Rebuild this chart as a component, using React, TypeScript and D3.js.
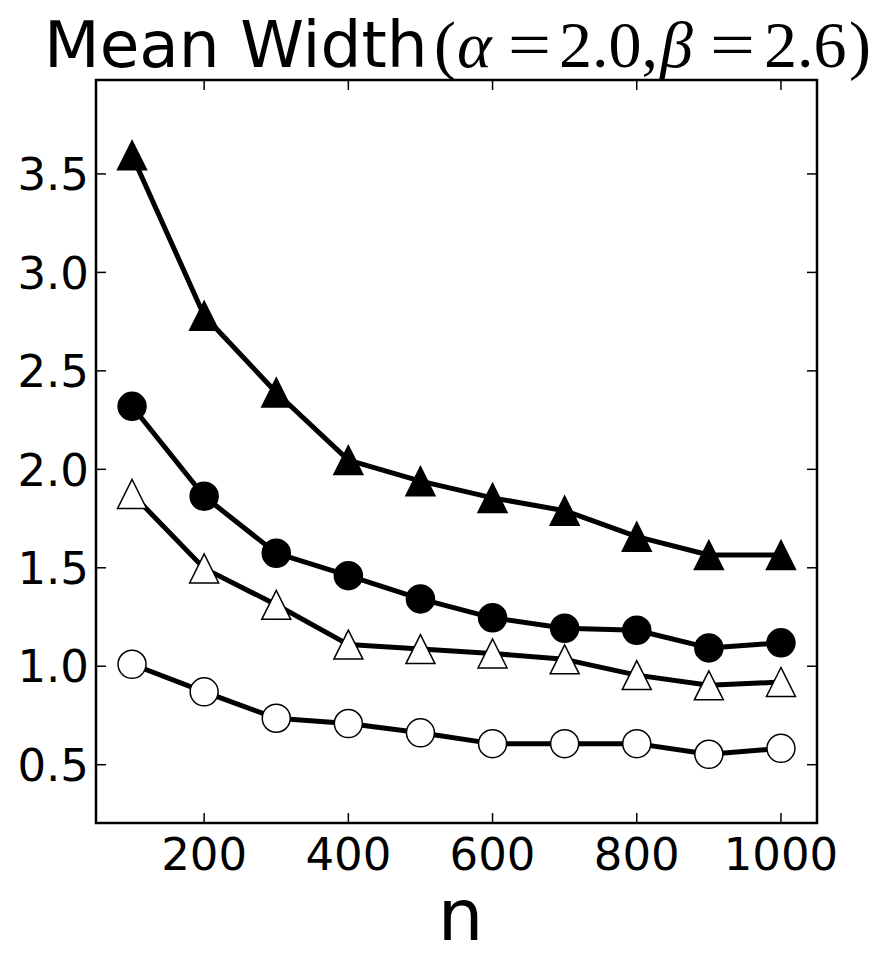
import React from "react";
import * as d3 from "d3";

const nValues = [100, 200, 300, 400, 500, 600, 700, 800, 900, 1000];
const filledTriangle = [3.595, 2.78, 2.39, 2.047, 1.94, 1.855, 1.79, 1.658, 1.565, 1.565];
const filledCircle = [2.32, 1.863, 1.574, 1.46, 1.342, 1.246, 1.193, 1.183, 1.093, 1.119];
const openTriangle = [1.875, 1.497, 1.312, 1.11, 1.087, 1.065, 1.035, 0.955, 0.903, 0.92];
const openCircle = [1.01, 0.87, 0.736, 0.709, 0.662, 0.607, 0.607, 0.607, 0.553, 0.583];
const xTicks = [200, 400, 600, 800, 1000];
const yTicks = [0.5, 1.0, 1.5, 2.0, 2.5, 3.0, 3.5];
const titleText = "Mean Width";
const mathPieces = [
  { t: "(", italic: false, x: 434, len: 0 },
  { t: "α", italic: true, x: 457, len: 0 },
  { t: "=", italic: false, x: 508, len: 43 },
  { t: "2.0,", italic: false, x: 559, len: 0 },
  { t: "β", italic: true, x: 660, len: 0 },
  { t: "=", italic: false, x: 710, len: 45 },
  { t: "2.6", italic: false, x: 764, len: 0 },
  { t: ")", italic: false, x: 849, len: 0 },
];

const W = 891;
const H = 973;
const L = 96, R = 817, T = 80, B = 823;

const series = [
  { values: openCircle, marker: "circle", fill: "#ffffff" },
  { values: openTriangle, marker: "triangle", fill: "#ffffff" },
  { values: filledCircle, marker: "circle", fill: "#000000" },
  { values: filledTriangle, marker: "triangle", fill: "#000000" },
];

export default function App() {
  const x = d3.scaleLinear().domain([50, 1050]).range([L, R]);
  const y = d3.scaleLinear().domain([0.204, 3.977]).range([B, T]);
  const line = d3
    .line<number>()
    .x((_, i) => x(nValues[i]))
    .y((d) => y(d));
  const ms = 14.5;
  const tickLen = 10;
  const sans = "'DejaVu Sans', sans-serif";
  const serif = "'Liberation Serif', 'DejaVu Serif', serif";

  return (
    <svg
      width={W}
      height={H}
      viewBox={`0 0 ${W} ${H}`}
      style={{ position: "absolute", left: 0, top: 0, background: "#fff" }}
    >
      <rect x={0} y={0} width={W} height={H} fill="#fff" />
      {series.map((s, si) => (
        <g key={si}>
          <path d={line(s.values) || ""} fill="none" stroke="#000" strokeWidth={5} strokeLinejoin="round" />
          {s.values.map((v, i) => {
            const cx = x(nValues[i]);
            const cy = y(v);
            if (s.marker === "circle") {
              return <circle key={i} cx={cx} cy={cy} r={ms - 0.5} fill={s.fill} stroke="#000" strokeWidth={1.5} />;
            }
            const pts = `${cx},${cy - ms} ${cx - ms},${cy + ms} ${cx + ms},${cy + ms}`;
            return <polygon key={i} points={pts} fill={s.fill} stroke="#000" strokeWidth={1.5} strokeLinejoin="miter" />;
          })}
        </g>
      ))}
      {xTicks.map((t) => (
        <g key={`x${t}`}>
          <line x1={x(t)} x2={x(t)} y1={B} y2={B - tickLen} stroke="#000" strokeWidth={1.5} />
          <line x1={x(t)} x2={x(t)} y1={T} y2={T + tickLen} stroke="#000" strokeWidth={1.5} />
          <text x={x(t)} y={870} textAnchor="middle" fontFamily={sans} fontSize={45} fill="#000">
            {t}
          </text>
        </g>
      ))}
      {yTicks.map((t) => (
        <g key={`y${t}`}>
          <line x1={L} x2={L + tickLen} y1={y(t)} y2={y(t)} stroke="#000" strokeWidth={1.5} />
          <line x1={R} x2={R - tickLen} y1={y(t)} y2={y(t)} stroke="#000" strokeWidth={1.5} />
          <text x={89} y={y(t)} dy="0.36em" textAnchor="end" fontFamily={sans} fontSize={45} fill="#000">
            {t.toFixed(1)}
          </text>
        </g>
      ))}
      <rect x={L} y={T} width={R - L} height={B - T} fill="none" stroke="#000" strokeWidth={2.5} />
      <text x={44} y={67} fontFamily={sans} fontSize={64.5} fill="#000">
        {titleText}
      </text>
      {mathPieces.map((p, i) => (
        <text
          key={i}
          x={p.x}
          y={67}
          fontFamily={serif}
          fontStyle={p.italic ? "italic" : "normal"}
          fontSize={66}
          fill="#000"
          {...(p.len ? { textLength: p.len, lengthAdjust: "spacingAndGlyphs" } : {})}
        >
          {p.t}
        </text>
      ))}
      <text x={(L + R) / 2 + 4} y={940} textAnchor="middle" fontFamily={sans} fontSize={72} fill="#000">
        n
      </text>
    </svg>
  );
}
